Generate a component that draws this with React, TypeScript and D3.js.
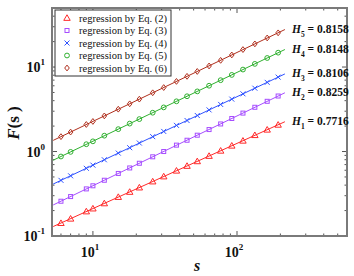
import * as d3 from 'd3'

const W = 354
const H = 276

// scale values s
const sValues = [6, 7, 9, 10, 12, 15, 18, 21, 26, 31, 38, 45, 53, 64, 77, 92, 110, 133, 162, 193]

// F(s) for each regression
const eq2 = [0.142, 0.160, 0.195, 0.211, 0.243, 0.289, 0.332, 0.374, 0.441, 0.506, 0.592, 0.674, 0.765, 0.885, 1.02, 1.17, 1.34, 1.56, 1.81, 2.07]
const eq3 = [0.258, 0.293, 0.361, 0.393, 0.457, 0.550, 0.639, 0.726, 0.866, 1.00, 1.19, 1.36, 1.56, 1.82, 2.12, 2.46, 2.85, 3.34, 3.93, 4.54]
const eq4 = [0.456, 0.516, 0.633, 0.690, 0.799, 0.958, 1.11, 1.26, 1.50, 1.73, 2.04, 2.33, 2.67, 3.11, 3.61, 4.17, 4.82, 5.62, 6.59, 7.60]
const eq5 = [0.873, 0.990, 1.22, 1.32, 1.54, 1.84, 2.14, 2.42, 2.88, 3.33, 3.93, 4.51, 5.15, 6.01, 6.99, 8.07, 9.34, 10.9, 12.8, 14.8]
const eq6 = [1.50, 1.70, 2.09, 2.27, 2.64, 3.17, 3.67, 4.17, 4.96, 5.72, 6.76, 7.76, 8.87, 10.3, 12.0, 13.9, 16.1, 18.8, 22.1, 25.4]

// fitted lines (endpoints)
const lineS = [5.3, 215]
const lineStart = [0.1294, 0.233, 0.4122, 0.7893, 1.355]
const lineEnd = [2.253, 4.96, 8.288, 16.12, 27.79]

const hurst = ['0.7716', '0.8259', '0.8106', '0.8148', '0.8158']
const legendLabels = ['regression by Eq. (2)', 'regression by Eq. (3)', 'regression by Eq. (4)', 'regression by Eq. (5)', 'regression by Eq. (6)']
const colors = ['#ff2a2a', '#a64dff', '#2f52ff', '#2fb02f', '#b0301e']
const markers = ['triangle', 'square', 'cross', 'circle', 'diamond']
const series = [eq2, eq3, eq4, eq5, eq6]

const xTicks = [10, 100]
const yTicks = [0.1, 1, 10]

const serif = "'Liberation Serif', 'DejaVu Serif', serif"

function Marker({ type, x, y, color }: { type: string; x: number; y: number; color: string }) {
  const common = { fill: 'none', stroke: color, strokeWidth: 1 }
  if (type === 'triangle') {
    const d = d3.symbol(d3.symbolTriangle, 18)() || ''
    return <path d={d} transform={`translate(${x},${y + 0.5})`} {...common} />
  }
  if (type === 'square') {
    return <rect x={x - 2} y={y - 2} width={4} height={4} {...common} />
  }
  if (type === 'cross') {
    return <path d={`M${x - 2.5},${y - 2.5}L${x + 2.5},${y + 2.5}M${x - 2.5},${y + 2.5}L${x + 2.5},${y - 2.5}`} {...common} />
  }
  if (type === 'circle') {
    return <circle cx={x} cy={y} r={2.4} {...common} />
  }
  return <path d={`M${x},${y - 2.9}L${x + 2.3},${y}L${x},${y + 2.9}L${x - 2.3},${y}Z`} {...common} />
}

export default function App() {
  const left = 52
  const right = 347
  const top = 8
  const bottom = 236

  const x = d3.scaleLog().domain([5.2, 580]).range([left, right])
  const y = d3.scaleLog().domain([0.1, 50]).range([bottom, top])

  const xMinor = [6, 7, 8, 9, 20, 30, 40, 50, 60, 70, 80, 90, 200, 300, 400, 500]
  const yMinor = [0.2, 0.3, 0.4, 0.5, 0.6, 0.7, 0.8, 0.9, 2, 3, 4, 5, 6, 7, 8, 9, 20, 30, 40]

  const axisColor = '#7a7a7a'
  const tickColor = '#555'

  return (
    <svg width={W} height={H} style={{ position: 'absolute', left: 0, top: 0, background: '#fff' }}>
      {/* ticks */}
      {xTicks.map((t) => (
        <g key={`xt${t}`} stroke={tickColor} strokeWidth={1}>
          <line x1={x(t)} x2={x(t)} y1={bottom} y2={bottom - 5} />
          <line x1={x(t)} x2={x(t)} y1={top} y2={top + 5} />
        </g>
      ))}
      {xMinor.map((t) => (
        <g key={`xm${t}`} stroke={tickColor} strokeWidth={1}>
          <line x1={x(t)} x2={x(t)} y1={bottom} y2={bottom - 2.5} />
          <line x1={x(t)} x2={x(t)} y1={top} y2={top + 2.5} />
        </g>
      ))}
      {yTicks.map((t) => (
        <g key={`yt${t}`} stroke={tickColor} strokeWidth={1}>
          <line x1={left} x2={left + 5} y1={y(t)} y2={y(t)} />
          <line x1={right} x2={right - 5} y1={y(t)} y2={y(t)} />
        </g>
      ))}
      {yMinor.map((t) => (
        <g key={`ym${t}`} stroke={tickColor} strokeWidth={1}>
          <line x1={left} x2={left + 2.5} y1={y(t)} y2={y(t)} />
          <line x1={right} x2={right - 2.5} y1={y(t)} y2={y(t)} />
        </g>
      ))}

      {/* fitted lines and points */}
      {series.map((vals, i) => (
        <g key={`s${i}`}>
          <line
            x1={x(lineS[0])}
            y1={y(lineStart[i])}
            x2={x(lineS[1])}
            y2={y(lineEnd[i])}
            stroke={colors[i]}
            strokeWidth={1}
          />
          {vals.map((v, j) => (
            <Marker key={j} type={markers[i]} x={x(sValues[j])} y={y(v)} color={colors[i]} />
          ))}
        </g>
      ))}

      {/* frame */}
      <rect x={left} y={top} width={right - left} height={bottom - top} fill="none" stroke={axisColor} strokeWidth={2} />

      {/* H labels */}
      {hurst.map((h, i) => (
        <text
          key={`h${i}`}
          x={292}
          y={y(lineEnd[i]) - 1}
          dy="0.35em"
          fontFamily={serif}
          fontWeight="bold"
          fontSize={11.5}
          fill="#111"
        >
          <tspan fontStyle="italic">H</tspan>
          <tspan fontSize={7.5} dy={4}>{i + 1}</tspan>
          <tspan dy={-4}>{` = ${h}`}</tspan>
        </text>
      ))}

      {/* legend */}
      <rect x={55} y={10} width={116} height={66} fill="#fff" stroke="#333" strokeWidth={1} />
      {legendLabels.map((lab, i) => (
        <g key={`lg${i}`}>
          <Marker type={markers[i]} x={67} y={18 + i * 12.5} color={colors[i]} />
          <text x={79} y={18 + i * 12.5} dy="0.35em" fontFamily={serif} fontSize={10.5} fill="#111">
            {lab}
          </text>
        </g>
      ))}

      {/* tick labels */}
      {xTicks.map((t) => (
        <text key={`xl${t}`} x={x(t) - 3} y={257} textAnchor="middle" fontFamily={serif} fontWeight="bold" fontSize={14} fill="#111">
          10
          <tspan fontSize={9} dy={-7}>{Math.round(Math.log10(t))}</tspan>
        </text>
      ))}
      {yTicks.map((t) => (
        <text key={`yl${t}`} x={45} y={y(t) + 5} textAnchor="end" fontFamily={serif} fontWeight="bold" fontSize={14} fill="#111">
          10
          <tspan fontSize={9} dy={-7}>{Math.round(Math.log10(t))}</tspan>
        </text>
      ))}

      {/* axis titles */}
      <text x={197} y={271} textAnchor="middle" fontFamily={serif} fontWeight="bold" fontStyle="italic" fontSize={16} fill="#111">
        s
      </text>
      <text
        transform="translate(19,123) rotate(-90)"
        textAnchor="middle"
        fontFamily={serif}
        fontWeight="bold"
        fontSize={17}
        fill="#111"
      >
        <tspan fontStyle="italic">F</tspan>(s )
      </text>
    </svg>
  )
}
